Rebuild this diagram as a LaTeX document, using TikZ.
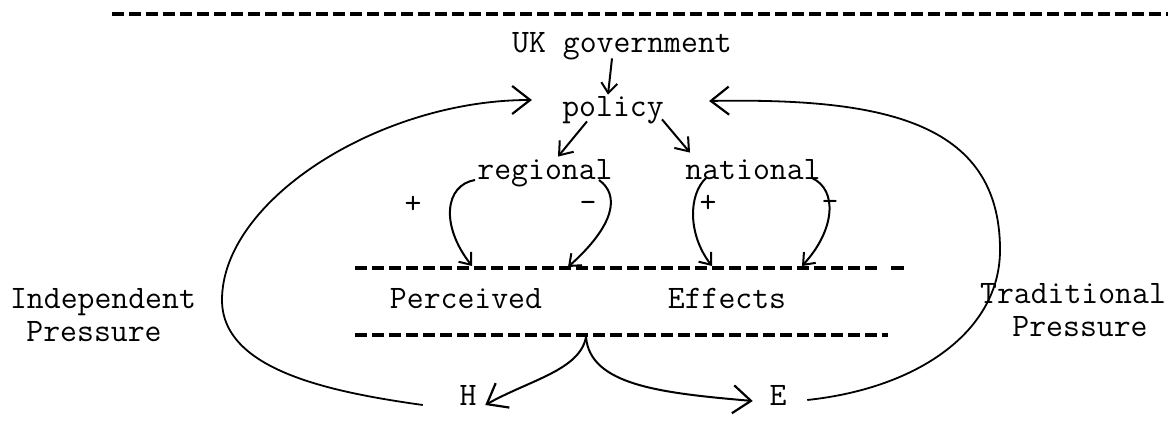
\documentclass[tikz,border=0pt]{standalone}
\usepackage{fontspec}
\usetikzlibrary{arrows.meta}
\begin{document}
\begin{tikzpicture}[x=0.5pt,y=-0.5pt,
  lbl/.style={font=\ttfamily\fontsize{16.4pt}{19pt}\selectfont, inner sep=1pt,
              text height=10pt, text depth=3pt, anchor=base},
  sgn/.style={font=\ttfamily\fontsize{16.4pt}{19pt}\selectfont, inner sep=0pt},
  rulel/.style={line width=1.8pt, dash pattern=on 6pt off 2.5pt},
  curve/.style={line width=1pt},
  tipS/.style={-{Straight Barb[length=5pt,width=8pt,line width=1pt]}},
  tipM/.style={-{Straight Barb[length=6pt,width=9pt,line width=1pt]}},
  tipL/.style={-{Straight Barb[length=9pt,width=14pt,line width=1.1pt]}}
]
\useasboundingbox (0,0) rectangle (1170,421);

% dashed rules
\coordinate (t1) at (112,14);  \coordinate (t2) at (1168,14);
\coordinate (m1) at (355,268); \coordinate (m2) at (877,268);
\coordinate (m3) at (891,268); \coordinate (m4) at (904,268);
\coordinate (b1) at (355,335); \coordinate (b2) at (888,335);
\draw[rulel] (t1) -- (t2);
\draw[rulel] (m1) -- (m2);
\draw[line width=1.8pt] (m3) -- (m4);
\draw[rulel] (b1) -- (b2);

% labels
\node[lbl] (uk) at (622,53) {UK government};
\node[lbl] (policy) at (613,117) {policy};
\node[lbl] (regional) at (545,180) {regional};
\node[lbl] (national) at (753,180) {national};
\node[lbl] (perc) at (466,309) {Perceived};
\node[lbl] (eff) at (727,309) {Effects};
\node[lbl] (indep) at (103,309) {Independent};
\node[lbl] (pressL) at (94,342) {Pressure};
\node[lbl] (trad) at (1073,304) {Traditional};
\node[lbl] (pressR) at (1080,337) {Pressure};
\node[lbl] (H) at (468,405) {H};
\node[lbl] (E) at (778,405) {E};

% signs
\node[sgn] (p1) at (413,205) {+};
\node[sgn] (n1) at (588,207) {-};
\node[sgn] (p2) at (708,204) {+};
\node[sgn] (n2) at (830,206) {-};

% arrow end points on the perceived-effects rule
\coordinate (e1) at (472,266);
\coordinate (e2) at (568,267);
\coordinate (e3) at (712,266);
\coordinate (e4) at (802,266);
\coordinate (split) at (586,337);

% government -> policy -> regional / national
\draw[curve,tipS] ([shift={(-5pt,1.5pt)}]uk.south) -- ([xshift=-2.5pt]policy.north);
\draw[curve,tipM] ([shift={(-13pt,2pt)}]policy.south) -- ([shift={(6.5pt,0.5pt)}]regional.north);
\draw[curve,tipM] ([shift={(24.5pt,3pt)}]policy.south) -- ([shift={(-31.5pt,2.5pt)}]national.north);

% regional and national loops
\draw[curve,tipS] (regional.base west) .. controls (445,185) and (440,225) .. (e1);
\draw[curve,tipS] ([xshift=-8pt]regional.base east) .. controls (620,195) and (615,225) .. (e2);
\draw[curve,tipS] ([shift={(11.5pt,1pt)}]national.base west) .. controls (688,195) and (688,235) .. (e3);
\draw[curve,tipS] ([shift={(-5.5pt,1pt)}]national.base east) .. controls (838,190) and (835,230) .. (e4);

% perceived effects -> H, E
\draw[curve,tipL] (split) .. controls (580,370) and (530,380) .. ([xshift=3.2pt]H.base east);
\draw[curve,tipL] (split) .. controls (590,385) and (660,393) .. ([shift={(-7.2pt,2pt)}]E.base west);

% pressure loops back to policy
\draw[line width=0.9pt,tipL] ([xshift=-17.2pt]H.base west)
  .. controls (330,392) and (222,370) .. (222,300)
  .. controls (222,200) and (380,100) .. ([shift={(-14pt,5pt)}]policy.west);
\draw[line width=0.9pt,tipL] ([shift={(9.2pt,2.5pt)}]E.base east)
  .. controls (920,388) and (1000,330) .. (1000,250)
  .. controls (1000,120) and (880,98) .. ([shift={(21.5pt,4.5pt)}]policy.east);
\end{tikzpicture}
\end{document}
